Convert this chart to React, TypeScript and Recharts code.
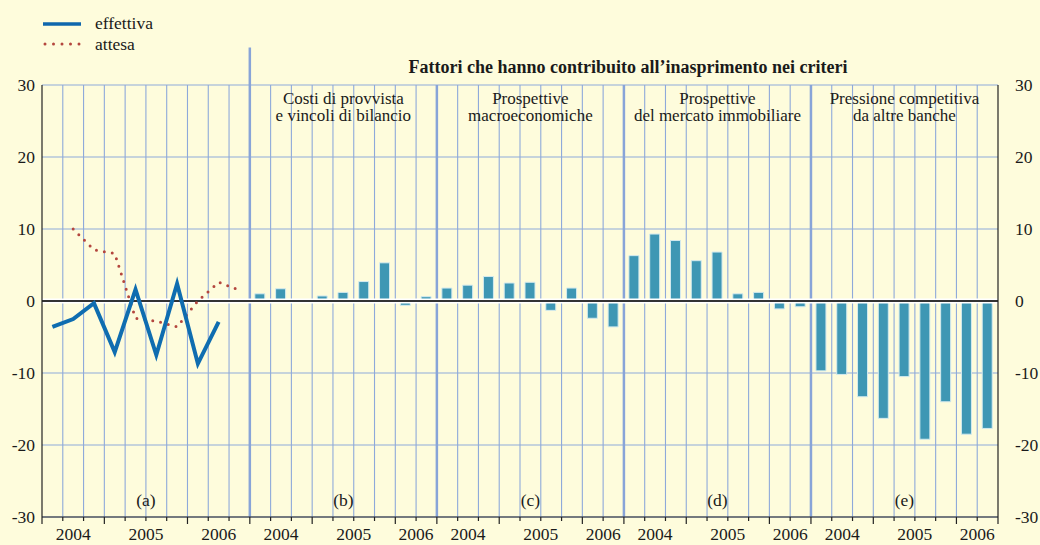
import React from 'react';
import {
  ComposedChart,
  Bar,
  Line,
  XAxis,
  YAxis,
  CartesianGrid,
  ReferenceLine,
  ReferenceDot,
} from 'recharts';

const SERIF = '"Liberation Serif", "Times New Roman", serif';

// trimestri del pannello (a) e dei pannelli dei fattori (b)-(e)
const periodiA = ['2004T2', '2004T3', '2004T4', '2005T1', '2005T2', '2005T3', '2005T4', '2006T1', '2006T2', '2006T3'];
const periodiFattori = ['2004T2', '2004T3', '2004T4', '2005T1', '2005T2', '2005T3', '2005T4', '2006T1', '2006T2'];

// (a) criteri di offerta: andamento effettivo e atteso
const effettiva = [-3.6, -2.5, -0.3, -7.1, 1.6, -7.5, 2.4, -8.7, -2.9, null];
const attesa = [null, 10.0, 7.1, 6.6, -2.4, -2.8, -3.6, 0.0, 2.6, 1.5];

// (b)-(e) fattori
const costiProvvista = [1.0, 1.7, 0, 0.7, 1.2, 2.7, 5.3, -0.6, 0.6];
const prospMacro = [1.8, 2.2, 3.4, 2.5, 2.6, -1.3, 1.8, -2.4, -3.6];
const prospImmobiliare = [6.3, 9.3, 8.4, 5.6, 6.8, 1.0, 1.2, -1.1, -0.8];
const pressioneCompetitiva = [-9.7, -10.2, -13.3, -16.3, -10.5, -19.2, -14.0, -18.5, -17.7];

const titoloFattori = 'Fattori che hanno contribuito all\u2019inasprimento nei criteri';
const yTicks = [-30, -20, -10, 0, 10, 20, 30];

const fattori = [
  { titolo: ['Costi di provvista', 'e vincoli di bilancio'], sigla: '(b)', valori: costiProvvista },
  { titolo: ['Prospettive', 'macroeconomiche'], sigla: '(c)', valori: prospMacro },
  { titolo: ['Prospettive', 'del mercato immobiliare'], sigla: '(d)', valori: prospImmobiliare },
  { titolo: ['Pressione competitiva', 'da altre banche'], sigla: '(e)', valori: pressioneCompetitiva },
];

// pannelli: inizio sull'asse x e periodi
const pannelli = [
  { start: 0, periodi: periodiA, sigla: '(a)', titolo: null as string[] | null },
  ...fattori.map((f, k) => ({
    start: periodiA.length + k * periodiFattori.length,
    periodi: periodiFattori,
    sigla: f.sigla,
    titolo: f.titolo,
  })),
];
const totale = periodiA.length + fattori.length * periodiFattori.length;

const rows = [
  ...periodiA.map((p, i) => ({ x: i + 0.5, periodo: p, effettiva: effettiva[i], attesa: attesa[i] })),
  ...fattori.flatMap((f, k) =>
    periodiFattori.map((p, i) => ({
      x: pannelli[k + 1].start + i + 0.5,
      periodo: p,
      valore: f.valori[i],
    }))
  ),
];

// etichette degli anni e separatori
const anni: { x: number; label: string }[] = [];
const cambiAnno = new Set<number>();
pannelli.forEach((pan) => {
  let first = 0;
  pan.periodi.forEach((p, i) => {
    const y = p.slice(0, 4);
    const next = pan.periodi[i + 1];
    if (!next || next.slice(0, 4) !== y) {
      anni.push({ x: pan.start + (first + i + 1) / 2, label: y });
      cambiAnno.add(pan.start + i + 1);
      first = i + 1;
    }
  });
  cambiAnno.add(pan.start);
});

const confini = pannelli.slice(1).map((p) => p.start);
const xTicks = Array.from({ length: totale + 1 }, (_, i) => i);
const gridX = xTicks.filter((i) => i > 0 && i < totale && !confini.includes(i));

const BoundaryTick = (props: any) => {
  const { x, y, payload } = props;
  const len = cambiAnno.has(payload.value) ? 7 : 4;
  return <line x1={x} x2={x} y1={y} y2={y + len} stroke="#222" strokeWidth={1.2} />;
};

const textLabel = (lines: string[], dy: number, opts: any = {}) => (props: any) => {
  const vb = props.viewBox || {};
  const cx = vb.x + (vb.width || 0) / 2;
  const cy = vb.y + (vb.height || 0) / 2;
  return (
    <text
      x={cx}
      y={cy + dy}
      textAnchor="middle"
      fontFamily={SERIF}
      fontSize={opts.fontSize || 17}
      fontWeight={opts.fontWeight || 'normal'}
      fill="#1a1a1a"
    >
      {lines.map((l, i) => (
        <tspan key={i} x={cx} dy={i === 0 ? 0 : opts.leading || 16}>
          {l}
        </tspan>
      ))}
    </text>
  );
};

const Legenda = () => (
  <svg width={200} height={60} style={{ position: 'absolute', left: 0, top: 0 }}>
    <line x1={43} x2={81} y1={24} y2={24} stroke="#0f67ad" strokeWidth={3.5} />
    <line
      x1={45}
      x2={81}
      y1={44}
      y2={44}
      stroke="#b4463e"
      strokeWidth={3}
      strokeLinecap="round"
      strokeDasharray="0 8.5"
    />
    <text x={95} y={29} fontFamily={SERIF} fontSize={17.5} fill="#1a1a1a">effettiva</text>
    <text x={95} y={50} fontFamily={SERIF} fontSize={17.5} fill="#1a1a1a">attesa</text>
  </svg>
);

export default function App() {
  return (
    <div
      style={{
        position: 'absolute',
        left: 0,
        top: 0,
        width: 1040,
        height: 545,
        background: '#fefcdc',
        overflow: 'hidden',
      }}
    >
      <Legenda />
      <ComposedChart
        width={1040}
        height={545}
        data={rows}
        margin={{ top: 85, right: 0, bottom: 0, left: 0 }}
      >
        <CartesianGrid stroke="#8ea9da" strokeWidth={1.1} verticalValues={gridX} horizontalValues={yTicks} />
        <XAxis
          type="number"
          dataKey="x"
          domain={[0, totale]}
          ticks={xTicks}
          interval={0}
          allowDataOverflow
          height={28}
          tickSize={0}
          tickMargin={0}
          tickLine={false}
          tick={<BoundaryTick />}
          axisLine={{ stroke: '#222', strokeWidth: 1.2 }}
        />
        <YAxis
          domain={[-30, 30]}
          ticks={yTicks}
          allowDataOverflow
          width={42}
          tickLine={false}
          tickMargin={1}
          axisLine={{ stroke: '#222', strokeWidth: 1.2 }}
          tick={{ fill: '#1a1a1a', fontSize: 17.5, fontFamily: SERIF }}
        />
        <YAxis
          yAxisId="right"
          orientation="right"
          domain={[-30, 30]}
          ticks={yTicks}
          allowDataOverflow
          width={42}
          tickLine={false}
          tickMargin={11}
          axisLine={{ stroke: '#222', strokeWidth: 1.2 }}
          tick={{ fill: '#1a1a1a', fontSize: 17.5, fontFamily: SERIF, textAnchor: 'start' }}
        />
        {confini.map((c, i) => (
          <ReferenceLine
            key={c}
            ifOverflow="visible"
            segment={[
              { x: c, y: -30 },
              { x: c, y: i === 0 ? 35.2 : 30 },
            ]}
            stroke="#88a4d8"
            strokeWidth={2.5}
          />
        ))}
        <Bar dataKey="valore" barSize={10} fill="#3e97b4" stroke="#d3eaee" strokeWidth={1} isAnimationActive={false} />
        <ReferenceLine y={0} stroke="#ffffff" strokeWidth={5} />
        <ReferenceLine y={0} stroke="#333333" strokeWidth={2} />
        <Line
          dataKey="attesa"
          stroke="#b4463e"
          strokeWidth={3}
          strokeLinecap="round"
          strokeDasharray="0 8"
          dot={false}
          activeDot={false}
          isAnimationActive={false}
        />
        <Line
          dataKey="effettiva"
          stroke="#0f6db0"
          strokeWidth={4}
          strokeLinejoin="miter"
          dot={false}
          activeDot={false}
          isAnimationActive={false}
        />
        <ReferenceDot
          x={totale / 2 + periodiA.length / 2 + 0.2}
          y={30}
          r={0}
          ifOverflow="visible"
          label={textLabel([titoloFattori], -12, { fontWeight: 'bold', fontSize: 18 })}
        />
        {pannelli.map((p) => (
          <ReferenceDot
            key={p.sigla}
            x={p.start + p.periodi.length / 2}
            y={-30}
            r={0}
            ifOverflow="visible"
            label={textLabel([p.sigla], -11, { fontSize: 17.5 })}
          />
        ))}
        {pannelli
          .filter((p) => p.titolo)
          .map((p) => (
            <ReferenceDot
              key={'t' + p.sigla}
              x={p.start + p.periodi.length / 2}
              y={30}
              r={0}
              ifOverflow="visible"
              label={textLabel(p.titolo as string[], 18.5, { fontSize: 17, leading: 17 })}
            />
          ))}
        {anni.map((a, i) => (
          <ReferenceDot
            key={'y' + i}
            x={a.x}
            y={-30}
            r={0}
            ifOverflow="visible"
            label={textLabel([a.label], 23, { fontSize: 17.5 })}
          />
        ))}
      </ComposedChart>
    </div>
  );
}
